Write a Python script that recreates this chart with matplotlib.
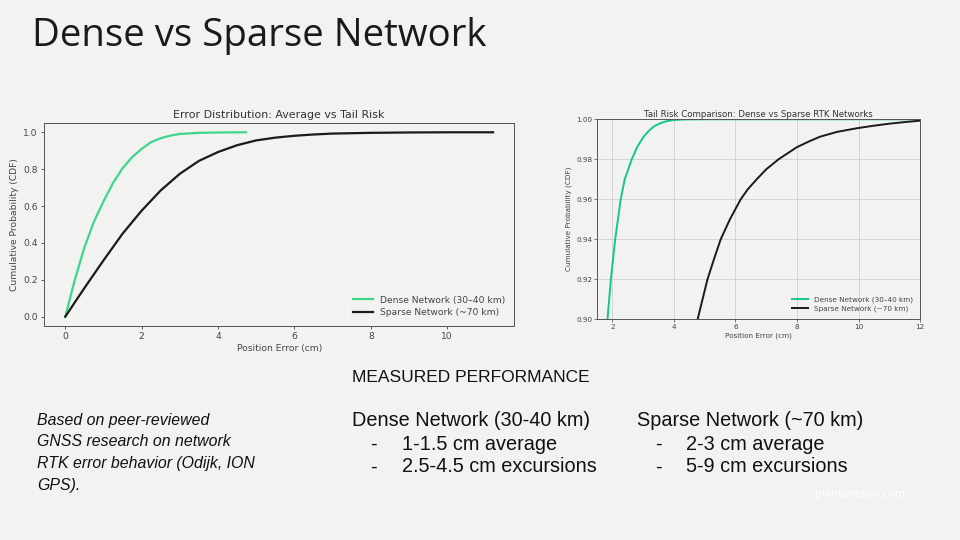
import matplotlib
matplotlib.use("Agg")
import matplotlib.pyplot as plt

# ---- data ----
# left chart: CDF of position error
dense_x = [0, 0.25, 0.5, 0.75, 1.0, 1.25, 1.5, 1.75, 2.0, 2.25, 2.5, 2.75, 3.0, 3.5, 4.0, 4.73]
dense_y = [0, 0.20, 0.375, 0.515, 0.625, 0.725, 0.805, 0.865, 0.91, 0.947, 0.968, 0.982, 0.991, 0.997, 0.999, 1.0]

sparse_x = [0, 0.5, 1.0, 1.5, 2.0, 2.5, 3.0, 3.5, 4.0, 4.5, 5.0, 5.5, 6.0, 6.5, 7.0, 8.0, 9.0, 10.0, 11.2]
sparse_y = [0, 0.155, 0.305, 0.45, 0.575, 0.685, 0.775, 0.845, 0.893, 0.93, 0.956, 0.971, 0.981,
            0.988, 0.993, 0.997, 0.999, 1.0, 1.0]

# right chart: zoom on the tail (0.90 - 1.00)
tail_dense_x = [1.80, 1.84, 1.95, 2.09, 2.27, 2.40, 2.63, 2.80, 3.00, 3.17, 3.35, 3.55, 3.75, 3.98, 4.3, 5.0, 12.0]
tail_dense_y = [0.885, 0.900, 0.920, 0.940, 0.960, 0.970, 0.980, 0.986, 0.991, 0.994, 0.9965, 0.998,
                0.999, 0.9996, 0.9999, 1.0, 1.0]

tail_sparse_x = [4.70, 4.77, 5.09, 5.30, 5.52, 5.82, 6.17, 6.40, 6.69, 7.00, 7.40, 7.99, 8.40, 8.75,
                 9.30, 9.94, 10.5, 11.0, 11.5, 12.0]
tail_sparse_y = [0.885, 0.900, 0.920, 0.930, 0.940, 0.950, 0.960, 0.965, 0.970, 0.975, 0.980, 0.986,
                 0.989, 0.9913, 0.9937, 0.9955, 0.9968, 0.9978, 0.9986, 0.9993]

left_xticks = [0, 2, 4, 6, 8, 10]
left_yticks = [0.0, 0.2, 0.4, 0.6, 0.8, 1.0]
right_xticks = [2, 4, 6, 8, 10, 12]
right_yticks = [0.90, 0.92, 0.94, 0.96, 0.98, 1.00]

dense_label = "Dense Network (30\u201340 km)"
sparse_label = "Sparse Network (~70 km)"

bg = "#f2f2f0"
green = "#3dd68c"
green2 = "#12c98a"
dark = "#1a1a1a"
spine = "#555555"
tick_col = "#444444"

fig = plt.figure(figsize=(9.6, 5.4), dpi=100, facecolor=bg)

# ---- left chart ----
ax1 = fig.add_axes([0.0457, 0.3965, 0.4902, 0.3756], facecolor=bg)
ax1.plot(dense_x, dense_y, color=green, linewidth=1.6, label=dense_label)
ax1.plot(sparse_x, sparse_y, color=dark, linewidth=1.6, label=sparse_label)
ax1.set_xticks(left_xticks)
ax1.set_yticks(left_yticks)
ax1.set_title("Error Distribution: Average vs Tail Risk", fontsize=7.9, color="#333333", pad=4)
ax1.set_xlabel("Position Error (cm)", fontsize=6.6, color="#444444", labelpad=2)
ax1.set_ylabel("Cumulative Probability (CDF)", fontsize=6.6, color="#444444", labelpad=3)
ax1.tick_params(labelsize=6.6, colors=tick_col, length=2.5, width=0.6, pad=2)
leg1 = ax1.legend(loc="lower right", fontsize=6.6, frameon=False, handlelength=2.2,
                  borderaxespad=0.6, labelspacing=0.35)
for t in leg1.get_texts():
    t.set_color("#444444")

# ---- right chart ----
ax2 = fig.add_axes([0.6219, 0.4087, 0.3365, 0.3704], facecolor=bg)
ax2.plot(tail_dense_x, tail_dense_y, color=green2, linewidth=1.4, label=dense_label)
ax2.plot(tail_sparse_x, tail_sparse_y, color=dark, linewidth=1.4, label=sparse_label)
ax2.set_xlim(1.5, 12)
ax2.set_ylim(0.90, 1.00)
ax2.set_xticks(right_xticks)
ax2.set_yticks(right_yticks)
ax2.set_yticklabels([f"{v:.2f}" for v in right_yticks])
ax2.grid(True, color="#cfcfcf", linewidth=0.6)
ax2.set_title("Tail Risk Comparison: Dense vs Sparse RTK Networks", fontsize=6.25, color="#333333", pad=2)
ax2.set_xlabel("Position Error (cm)", fontsize=5.25, color="#444444", labelpad=1.5)
ax2.set_ylabel("Cumulative Probability (CDF)", fontsize=5.25, color="#444444", labelpad=3)
ax2.tick_params(labelsize=5.25, colors=tick_col, length=2, width=0.5, pad=1.5)
leg2 = ax2.legend(loc="lower right", fontsize=5.25, frameon=False, handlelength=2.2,
                  borderaxespad=0.6, labelspacing=0.3)
for t in leg2.get_texts():
    t.set_color("#444444")

for ax in (ax1, ax2):
    for s in ax.spines.values():
        s.set_color(spine)
        s.set_linewidth(0.7)

# ---- slide text ----
fig.text(32 / 960, 1 - 36 / 540, "Dense vs Sparse Network", fontsize=27.6, family="Open Sans",
         color="#1a1a1a", va="center", ha="left")

body = "Liberation Sans"
ink = "#111111"
big = 14.3
fig.text(352 / 960, 1 - 377 / 540, "MEASURED PERFORMANCE", fontsize=12.5, family=body,
         color=ink, va="center")

fig.text(352 / 960, 1 - 420 / 540, "Dense Network (30-40 km)", fontsize=big, family=body,
         color=ink, va="center")
fig.text(370 / 960, 1 - 444 / 540, "-", fontsize=big, family=body, color=ink, va="center")
fig.text(402 / 960, 1 - 444 / 540, "1-1.5 cm average", fontsize=big, family=body, color=ink, va="center")
fig.text(370 / 960, 1 - 467 / 540, "-", fontsize=big, family=body, color=ink, va="center")
fig.text(402 / 960, 1 - 467 / 540, "2.5-4.5 cm excursions", fontsize=big, family=body, color=ink, va="center")

fig.text(637 / 960, 1 - 420 / 540, "Sparse Network (~70 km)", fontsize=big, family=body,
         color=ink, va="center")
fig.text(655 / 960, 1 - 444 / 540, "-", fontsize=big, family=body, color=ink, va="center")
fig.text(686 / 960, 1 - 444 / 540, "2-3 cm average", fontsize=big, family=body, color=ink, va="center")
fig.text(655 / 960, 1 - 467 / 540, "-", fontsize=big, family=body, color=ink, va="center")
fig.text(686 / 960, 1 - 467 / 540, "5-9 cm excursions", fontsize=big, family=body, color=ink, va="center")

note_lines = ["Based on peer-reviewed", "GNSS research on network",
              "RTK error behavior (Odijk, ION", "GPS)."]
for i, line in enumerate(note_lines):
    fig.text(37 / 960, 1 - (420 + 21.7 * i) / 540, line, fontsize=11.4, family=body,
             style="italic", color=ink, va="center")

fig.text(815 / 960, 1 - 494 / 540, "pointonenav.com", fontsize=7.5, family="DejaVu Sans",
         color="white", va="center")

fig.savefig("out.png", dpi=100, facecolor=bg)
